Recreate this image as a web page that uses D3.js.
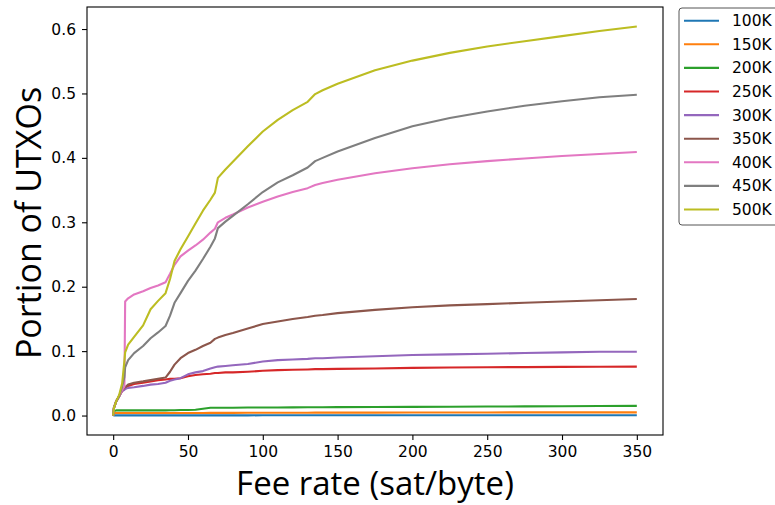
<!DOCTYPE html>
<html>
<head>
<meta charset="utf-8">
<script src="https://cdn.jsdelivr.net/npm/d3@7"></script>
<style>
  html, body { margin: 0; padding: 0; background: #fff; }
  svg { display: block; }
</style>
</head>
<body>
<svg id="chart" width="775" height="505"></svg>
<script>
// ---- data ----
const seriesNames = ["100K", "150K", "200K", "250K", "300K", "350K", "400K", "450K", "500K"];
const feeRates = [0, 0.5, 2, 4, 6, 7.5, 8, 10, 14, 20, 25, 30, 35, 38, 41, 45, 50, 55, 60, 65, 68, 70, 75, 80, 90, 100, 110, 120, 130, 135, 140, 150, 175, 200, 225, 250, 275, 300, 325, 350];

const v100K = [0, 0.0003, 0.0003, 0.0003, 0.0003, 0.0003, 0.0003, 0.0003, 0.0003, 0.0003, 0.0003, 0.0003, 0.0003, 0.0003, 0.0003, 0.0003, 0.0003, 0.0003, 0.0003, 0.0003, 0.0003, 0.0003, 0.0003, 0.0003, 0.0003, 0.0004, 0.0004, 0.0004, 0.0004, 0.0004, 0.0004, 0.0004, 0.0004, 0.0004, 0.0005, 0.0005, 0.0005, 0.0005, 0.0005, 0.0005];
const v150K = [0, 0.004, 0.004, 0.004, 0.004, 0.004, 0.004, 0.004, 0.004, 0.004, 0.004, 0.004, 0.004, 0.004, 0.004, 0.004, 0.004, 0.004, 0.004, 0.0042, 0.0042, 0.0042, 0.0042, 0.0042, 0.0043, 0.0043, 0.0044, 0.0044, 0.0044, 0.0045, 0.0045, 0.0045, 0.0046, 0.0047, 0.0048, 0.0048, 0.0049, 0.0049, 0.005, 0.005];
const v200K = [0, 0.007, 0.008, 0.008, 0.008, 0.008, 0.008, 0.008, 0.008, 0.008, 0.008, 0.008, 0.008, 0.0082, 0.0083, 0.0085, 0.0087, 0.009, 0.0105, 0.012, 0.012, 0.012, 0.0121, 0.0122, 0.0124, 0.0125, 0.0126, 0.0127, 0.0128, 0.0128, 0.0129, 0.013, 0.0132, 0.0135, 0.0137, 0.014, 0.0142, 0.0145, 0.0148, 0.015];
const v250K = [0, 0.012, 0.022, 0.03, 0.038, 0.041, 0.043, 0.046, 0.049, 0.051, 0.053, 0.055, 0.056, 0.057, 0.057, 0.058, 0.061, 0.063, 0.064, 0.065, 0.066, 0.066, 0.067, 0.067, 0.068, 0.0695, 0.0705, 0.071, 0.0715, 0.072, 0.072, 0.0725, 0.073, 0.074, 0.0745, 0.075, 0.0752, 0.0755, 0.0758, 0.076];
const v300K = [0, 0.012, 0.022, 0.03, 0.038, 0.04, 0.041, 0.043, 0.044, 0.046, 0.048, 0.049, 0.051, 0.054, 0.056, 0.058, 0.064, 0.067, 0.069, 0.073, 0.075, 0.076, 0.077, 0.078, 0.08, 0.084, 0.086, 0.087, 0.088, 0.089, 0.089, 0.09, 0.092, 0.094, 0.095, 0.096, 0.097, 0.098, 0.099, 0.099];
const v350K = [0, 0.012, 0.022, 0.03, 0.04, 0.043, 0.044, 0.048, 0.051, 0.053, 0.055, 0.057, 0.059, 0.068, 0.079, 0.089, 0.097, 0.102, 0.108, 0.113, 0.119, 0.121, 0.125, 0.128, 0.135, 0.142, 0.146, 0.15, 0.153, 0.155, 0.156, 0.159, 0.164, 0.168, 0.171, 0.173, 0.175, 0.177, 0.179, 0.181];
const v400K = [0, 0.012, 0.022, 0.03, 0.04, 0.045, 0.177, 0.182, 0.188, 0.193, 0.198, 0.202, 0.207, 0.22, 0.234, 0.247, 0.256, 0.264, 0.273, 0.284, 0.29, 0.3, 0.307, 0.312, 0.323, 0.332, 0.34, 0.347, 0.353, 0.358, 0.361, 0.366, 0.376, 0.384, 0.39, 0.395, 0.399, 0.403, 0.406, 0.409];
const v450K = [0, 0.012, 0.022, 0.03, 0.045, 0.06, 0.075, 0.086, 0.097, 0.108, 0.12, 0.129, 0.139, 0.155, 0.175, 0.19, 0.209, 0.225, 0.243, 0.262, 0.275, 0.291, 0.301, 0.31, 0.328, 0.347, 0.362, 0.373, 0.385, 0.395, 0.4, 0.41, 0.431, 0.449, 0.462, 0.472, 0.481, 0.488, 0.494, 0.498];
const v500K = [0, 0.012, 0.022, 0.032, 0.05, 0.085, 0.098, 0.11, 0.122, 0.14, 0.165, 0.178, 0.19, 0.212, 0.24, 0.258, 0.278, 0.298, 0.318, 0.335, 0.346, 0.369, 0.382, 0.394, 0.418, 0.441, 0.459, 0.474, 0.487, 0.499, 0.505, 0.515, 0.536, 0.551, 0.563, 0.573, 0.581, 0.589, 0.597, 0.604];

const seriesValues = [v100K, v150K, v200K, v250K, v300K, v350K, v400K, v450K, v500K];
const xTicks = [0, 50, 100, 150, 200, 250, 300, 350];
const yTicks = [0.0, 0.1, 0.2, 0.3, 0.4, 0.5, 0.6];
const colors = ["#1f77b4", "#ff7f0e", "#2ca02c", "#d62728", "#9467bd", "#8c564b", "#e377c2", "#7f7f7f", "#bcbd22"];

// ---- layout ----
const svg = d3.select("#chart");
const mLeft = 87, mRight = 663, mTop = 7, mBottom = 435;

const x = d3.scaleLinear().domain([-17.5, 367.5]).range([mLeft, mRight]);
const y = d3.scaleLinear().domain([-0.0302, 0.6342]).range([mBottom, mTop]);

const tickFont = "'DejaVu Sans', sans-serif";
const tickSize = "15.5px";

// lines
const line = d3.line().x(d => x(d[0])).y(d => y(d[1]));
const plot = svg.append("g");
plot.append("defs").append("clipPath").attr("id", "clip")
  .append("rect").attr("x", mLeft).attr("y", mTop).attr("width", mRight - mLeft).attr("height", mBottom - mTop);
const lines = plot.append("g").attr("clip-path", "url(#clip)");
seriesValues.forEach((vals, i) => {
  const pts = feeRates.map((f, j) => [f, vals[j]]);
  lines.append("path")
    .attr("d", line(pts))
    .attr("fill", "none")
    .attr("stroke", colors[i])
    .attr("stroke-width", 2.1)
    .attr("stroke-linejoin", "round")
    .attr("stroke-linecap", "butt");
});

// axes
const xAxis = d3.axisBottom(x).tickValues(xTicks).tickFormat(d3.format("d")).tickSizeOuter(0).tickSize(5).tickPadding(6);
const yAxis = d3.axisLeft(y).tickValues(yTicks).tickFormat(d3.format(".1f")).tickSizeOuter(0).tickSize(5).tickPadding(6);

const gx = svg.append("g").attr("transform", `translate(0,${mBottom})`).call(xAxis);
const gy = svg.append("g").attr("transform", `translate(${mLeft},0)`).call(yAxis);
[gx, gy].forEach(g => {
  g.select(".domain").remove();
  g.selectAll(".tick line").attr("stroke", "#000").attr("stroke-width", 1.1);
  g.selectAll(".tick text").attr("fill", "#000").style("font-family", tickFont).style("font-size", tickSize);
});

// frame
svg.append("rect")
  .attr("x", mLeft).attr("y", mTop).attr("width", mRight - mLeft).attr("height", mBottom - mTop)
  .attr("fill", "none").attr("stroke", "#000").attr("stroke-width", 1.1);

// axis labels
const labelFont = "'Open Sans', sans-serif";
svg.append("text")
  .attr("x", (mLeft + mRight) / 2).attr("y", 495)
  .attr("text-anchor", "middle")
  .style("font-family", labelFont).style("font-size", "33px").attr("fill", "#000")
  .text("Fee rate (sat/byte)");
svg.append("text")
  .attr("transform", `translate(41,${(mTop + mBottom) / 2 + 2}) rotate(-90)`)
  .attr("text-anchor", "middle")
  .style("font-family", labelFont).style("font-size", "34px").attr("fill", "#000")
  .text("Portion of UTXOs");

// legend
const leg = svg.append("g");
leg.append("rect")
  .attr("x", 679).attr("y", 8).attr("width", 110).attr("height", 217)
  .attr("rx", 3).attr("ry", 3)
  .attr("fill", "#fff").attr("stroke", "#555").attr("stroke-width", 1);
seriesNames.forEach((name, i) => {
  const cy = 20.7 + i * 23.6;
  leg.append("line")
    .attr("x1", 684).attr("x2", 719).attr("y1", cy).attr("y2", cy)
    .attr("stroke", colors[i]).attr("stroke-width", 2.1);
  leg.append("text")
    .attr("x", 732).attr("y", cy + 5.5)
    .style("font-family", tickFont).style("font-size", tickSize).attr("fill", "#000")
    .text(name);
});
</script>
</body>
</html>
